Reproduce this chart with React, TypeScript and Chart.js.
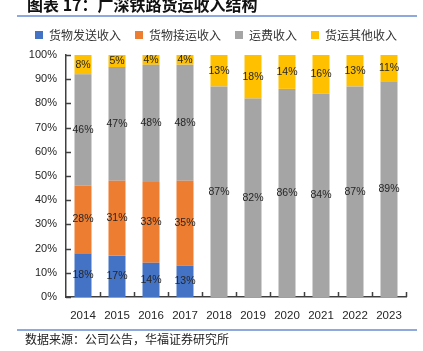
import React, { useEffect, useRef } from "react";
import { Chart, registerables } from "chart.js";

Chart.register(...registerables);

const CATEGORIES = ["2014", "2015", "2016", "2017", "2018", "2019", "2020", "2021", "2022", "2023"];
const SERIES_NAMES = ["货物发送收入", "货物接运收入", "运费收入", "货运其他收入"];
const SEND = [18, 17, 14, 13, 0, 0, 0, 0, 0, 0];
const RECEIVE = [28, 31, 33, 35, 0, 0, 0, 0, 0, 0];
const FREIGHT = [46, 47, 48, 48, 87, 82, 86, 84, 87, 89];
const OTHER = [8, 5, 4, 4, 13, 18, 14, 16, 13, 11];
const COLORS = ["#4472C4", "#ED7D31", "#A5A5A5", "#FFC000"];
const Y_MIN = 0;
const Y_MAX = 100;
const Y_STEP = 10;

const TITLE = "图表 17：广深铁路货运收入结构";
const SOURCE = "数据来源：公司公告，华福证券研究所";

const RAW = [SEND, RECEIVE, FREIGHT, OTHER];
const TOTALS = CATEGORIES.map((_, i) => RAW.reduce((s, arr) => s + arr[i], 0));

const AXIS_COLOR = "#404040";
const TICK_FONT = "'Liberation Sans', Arial, sans-serif";

const labelPlugin = {
  id: "segLabels",
  afterDatasetsDraw(chart: any) {
    const ctx = chart.ctx;
    ctx.save();
    ctx.font = `10.5px ${TICK_FONT}`;
    ctx.fillStyle = "#262626";
    ctx.textAlign = "center";
    ctx.textBaseline = "middle";
    chart.data.datasets.forEach((ds: any, di: number) => {
      const meta = chart.getDatasetMeta(di);
      meta.data.forEach((bar: any, i: number) => {
        const v = RAW[di][i];
        if (!v) return;
        const y = (bar.y + bar.base) / 2;
        ctx.fillText(`${v}%`, bar.x, y);
      });
    });
    ctx.restore();
  },
};

const tickPlugin = {
  id: "innerTicks",
  afterDraw(chart: any) {
    const { ctx, chartArea } = chart;
    const yScale = chart.scales.y;
    ctx.save();
    ctx.strokeStyle = AXIS_COLOR;
    ctx.lineWidth = 1.5;
    ctx.beginPath();
    for (let v = Y_MIN; v <= Y_MAX; v += Y_STEP) {
      const y = Math.round(yScale.getPixelForValue(v)) + 0.5;
      ctx.moveTo(chartArea.left, y);
      ctx.lineTo(chartArea.left + 5, y);
    }
    const n = CATEGORIES.length;
    const w = (chartArea.right - chartArea.left) / n;
    for (let i = 1; i <= n; i++) {
      const x = Math.round(chartArea.left + i * w) + 0.5;
      ctx.moveTo(x, chartArea.bottom);
      ctx.lineTo(x, chartArea.bottom - 5);
    }
    ctx.stroke();
    ctx.restore();
  },
};

const legendSpace = {
  id: "legendSpace",
  beforeInit(chart: any) {
    const legend = chart.legend;
    if (!legend) return;
    const origFit = legend.fit;
    legend.fit = function () {
      origFit.bind(this)();
      this.height += 4;
    };
  },
  afterLayout(chart: any) {
    const legend = chart.legend;
    if (!legend) return;
    legend.left += 13;
    legend.right += 13;
  },
};

export default function App() {
  const ref = useRef<HTMLCanvasElement | null>(null);
  useEffect(() => {
    if (!ref.current) return;
    const chart = new Chart(ref.current, {
      type: "bar",
      data: {
        labels: CATEGORIES,
        datasets: RAW.map((arr, di) => ({
          label: SERIES_NAMES[di],
          data: arr.map((v, i) => (v / TOTALS[i]) * 100),
          backgroundColor: COLORS[di],
          borderWidth: 0,
          categoryPercentage: 1,
          barPercentage: 0.5,
        })),
      },
      options: {
        responsive: false,
        animation: false,
        layout: { padding: { top: 15, left: 0, right: 17, bottom: 0 } },
        plugins: {
          legend: {
            position: "top",
            labels: {
              boxWidth: 8,
              boxHeight: 8,
              padding: 14,
              color: "#333333",
              font: { family: "'Noto Sans CJK SC', sans-serif", size: 12 },
            },
          },
          tooltip: { enabled: false },
          title: { display: false },
        },
        scales: {
          x: {
            stacked: true,
            grid: { display: false, drawTicks: false },
            border: { display: true, color: AXIS_COLOR, width: 1.5 },
            ticks: {
              color: "#262626",
              padding: 12,
              font: { family: TICK_FONT, size: 11.5 },
            },
            afterFit(scale: any) {
              scale.height = 54;
            },
          },
          y: {
            stacked: true,
            min: Y_MIN,
            max: Y_MAX,
            grid: { display: false, drawTicks: false },
            border: { display: true, color: AXIS_COLOR, width: 1.5 },
            ticks: {
              stepSize: Y_STEP,
              padding: 9,
              color: "#262626",
              font: { family: TICK_FONT, size: 11 },
              callback: (v: any) => `${v}%`,
            },
            afterFit(scale: any) {
              scale.width = 66;
            },
          },
        },
      },
      plugins: [legendSpace, labelPlugin, tickPlugin],
    });
    return () => chart.destroy();
  }, []);

  return (
    <div style={{ position: "absolute", left: 0, top: 0, width: 423, height: 351, background: "#fff", overflow: "hidden" }}>
      <canvas ref={ref} width={423} height={351} style={{ position: "absolute", left: 0, top: 0 }} />
      <div
        style={{
          position: "absolute",
          left: 27,
          top: -4,
          fontFamily: "'Noto Sans CJK SC', sans-serif",
          fontWeight: 700,
          fontSize: 16,
          lineHeight: "16px",
          color: "#111",
          whiteSpace: "nowrap",
        }}
      >
        {TITLE}
      </div>
      <div style={{ position: "absolute", left: 17, top: 15, width: 400, height: 1.5, background: "#8EA9DB" }} />
      <div style={{ position: "absolute", left: 17, top: 329, width: 400, height: 1.5, background: "#8EA9DB" }} />
      <div
        style={{
          position: "absolute",
          left: 25,
          top: 332,
          fontFamily: "'Noto Sans CJK SC', sans-serif",
          fontSize: 12,
          lineHeight: "14px",
          color: "#222",
          whiteSpace: "nowrap",
        }}
      >
        {SOURCE}
      </div>
    </div>
  );
}
